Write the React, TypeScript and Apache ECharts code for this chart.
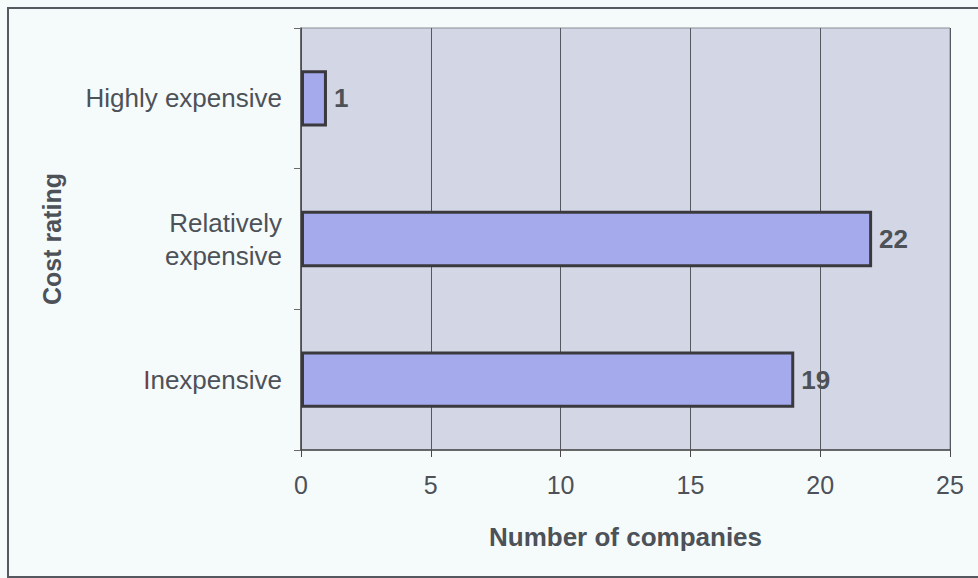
import React, { useEffect, useRef } from "react";
import * as echarts from "echarts";

// Cost rating categories (bottom to top) and number of companies in each
const categories: string[] = ["Inexpensive", "Relatively\nexpensive", "Highly expensive"];
const companyCounts: number[] = [19, 22, 1];
const xTicks: number[] = [0, 5, 10, 15, 20, 25];

const FONT = "'Liberation Sans', Arial, Helvetica, sans-serif";
const TEXT = "#4d5158";

export default function App() {
  const ref = useRef<HTMLDivElement>(null);

  useEffect(() => {
    if (!ref.current) return;
    const chart = echarts.init(ref.current, undefined, { renderer: "svg" });
    chart.setOption({
      animation: false,
      backgroundColor: "#f5fbfb",
      textStyle: { fontFamily: FONT },
      grid: {
        left: 301,
        top: 28,
        right: 28,
        bottom: 128,
        show: true,
        backgroundColor: "#d3d6e4",
        borderColor: "#8a8d95",
        borderWidth: 1,
      },
      xAxis: {
        type: "value",
        min: xTicks[0],
        max: xTicks[xTicks.length - 1],
        interval: 5,
        name: "Number of companies",
        nameLocation: "middle",
        nameGap: 74,
        nameTextStyle: { fontFamily: FONT, fontSize: 26, fontWeight: "bold", color: TEXT },
        axisLine: { show: true, lineStyle: { color: "#4a4a4a", width: 1.5 } },
        axisTick: { show: true, length: 7, lineStyle: { color: "#4a4a4a" } },
        axisLabel: { fontFamily: FONT, fontSize: 25, color: TEXT, margin: 22 },
        splitLine: { show: true, lineStyle: { color: "#55585e", width: 1 } },
      },
      yAxis: {
        type: "category",
        data: categories,
        name: "Cost rating",
        nameLocation: "middle",
        nameRotate: 90,
        nameGap: 237,
        nameTextStyle: { fontFamily: FONT, fontSize: 25, fontWeight: "bold", color: TEXT },
        axisLine: { show: true, lineStyle: { color: "#4a4a4a", width: 1.5 } },
        axisTick: { show: true, length: 7, lineStyle: { color: "#6a6a6a" } },
        axisLabel: {
          fontFamily: FONT,
          fontSize: 26,
          color: TEXT,
          margin: 19,
          lineHeight: 33,
          align: "right",
          formatter: (v: string) => (v === "Inexpensive" ? "{r|I}{n|nexpensive}" : v),
          rich: {
            r: { fontFamily: FONT, fontSize: 26, color: "#7a3b40" },
            n: { fontFamily: FONT, fontSize: 26, color: TEXT },
          },
        },
        splitLine: { show: false },
      },
      series: [
        {
          type: "bar",
          data: companyCounts,
          barWidth: "40%",
          itemStyle: { color: "#a4aaec", borderColor: "#3a3a3e", borderWidth: 3 },
          label: {
            show: true,
            position: "right",
            distance: 7,
            fontFamily: FONT,
            fontSize: 26,
            fontWeight: "bold",
            color: TEXT,
          },
        },
      ],
      graphic: [
        {
          type: "polyline",
          shape: { points: [[985, 8], [8, 8], [8, 577], [985, 577]] },
          style: { stroke: "#55585e", lineWidth: 2, fill: "none" },
          silent: true,
        },
      ],
    });
    return () => chart.dispose();
  }, []);

  return (
    <div
      ref={ref}
      style={{ position: "absolute", left: 0, top: 0, width: 978, height: 578 }}
    />
  );
}
